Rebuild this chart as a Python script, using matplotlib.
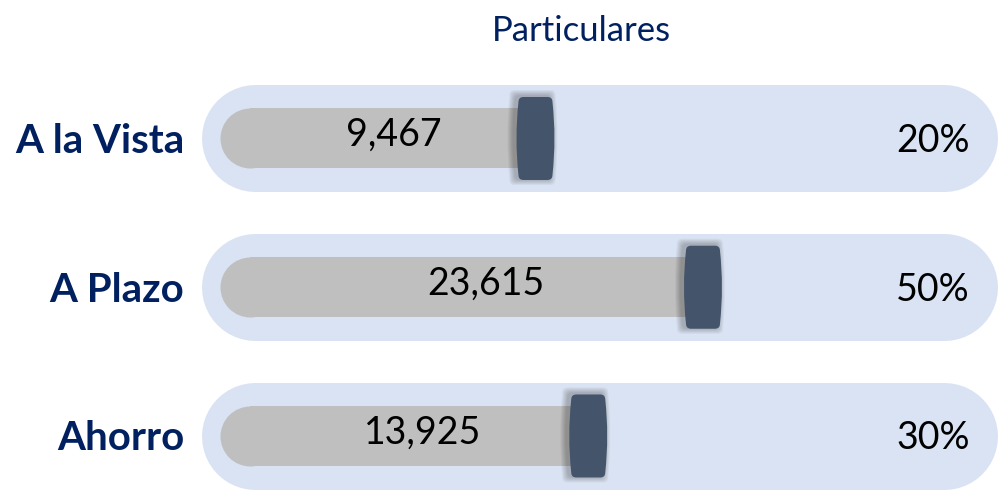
import matplotlib
matplotlib.use("Agg")
import matplotlib.pyplot as plt
from matplotlib.path import Path
from matplotlib.patches import PathPatch

plt.rcParams['font.family'] = ['Lato', 'DejaVu Sans']

# data
categories = ['A la Vista', 'A Plazo', 'Ahorro']
values = [9467, 23615, 13925]
shares = ['20%', '50%', '30%']
title = 'Particulares'

# axis scale (value units) and row layout
X0, X1 = -35760, 48620
Y0, Y1 = -0.931, 2.417
W, H = 999, 498
UX = (X1 - X0) / W          # value units per pixel
UY = (Y1 - Y0) / H          # row units per pixel
PT = 72 / 100               # points per pixel

TRACK_MIN, TRACK_MAX = -18700, 48530
BAR_MIN = -17180
PCT_X = 43040
LABEL_X = -20220
TITLE_X = 13310

fig = plt.figure(figsize=(9.99, 4.98), dpi=100)
ax = fig.add_axes([0, 0, 1, 1])
ax.set_xlim(X0, X1)
ax.set_ylim(Y1, Y0)
ax.axis('off')

track_h = 107
bar_h = 60


def knob_path(cx, cy, hw=17.0, hh=41.5, rc=5.0, b=2.0, grow=0.0, dx=0.0, dy=0.0):
    hw += grow
    hh += grow
    pts = [(-hw + rc, -hh), (hw - rc, -hh),
           (hw, -hh), (hw, -hh + rc),
           (hw + 2 * b, 0), (hw, hh - rc),
           (hw, hh), (hw - rc, hh),
           (-hw + rc, hh),
           (-hw, hh), (-hw, hh - rc),
           (-hw - 2 * b, 0), (-hw, -hh + rc),
           (-hw, -hh), (-hw + rc, -hh),
           (0, 0)]
    codes = [Path.MOVETO, Path.LINETO,
             Path.CURVE3, Path.CURVE3,
             Path.CURVE3, Path.CURVE3,
             Path.CURVE3, Path.CURVE3,
             Path.LINETO,
             Path.CURVE3, Path.CURVE3,
             Path.CURVE3, Path.CURVE3,
             Path.CURVE3, Path.CURVE3,
             Path.CLOSEPOLY]
    verts = [(cx + (px + dx) * UX, cy + (py + dy) * UY) for px, py in pts]
    return Path(verts, codes)


for i, (cat, v, pct) in enumerate(zip(categories, values, shares)):
    # background track (capsule)
    r = track_h / 2 * UX
    ax.plot([TRACK_MIN + r, TRACK_MAX - r], [i, i], color='#DAE3F3',
            lw=track_h * PT, solid_capstyle='round', zorder=1)
    # grey bar, rounded on the left
    rb = bar_h / 2 * UX
    ax.barh(i, v - (BAR_MIN + rb), left=BAR_MIN + rb, height=bar_h * UY,
            color='#BFBFBF', zorder=2)
    ax.plot([BAR_MIN + rb], [i], marker='o', ms=bar_h * PT, color='#BFBFBF',
            mec='none', zorder=2)
    # knob shadow (soft, towards the left)
    for k in range(6, 0, -1):
        ax.add_patch(PathPatch(knob_path(v, i, grow=k, dx=-3, dy=-1),
                               fc='black', ec='none', alpha=0.045, zorder=3))
    ax.add_patch(PathPatch(knob_path(v, i), fc='#44546A', ec='none', zorder=4))
    # texts
    ax.text(LABEL_X, i + 14.5 * UY, cat, ha='right', va='baseline',
            fontsize=29, fontweight='bold', color='#002060', zorder=5)
    tx = BAR_MIN + 0.55 * (v - BAR_MIN)
    ax.text(tx, i + 7.5 * UY, f'{v:,}', ha='center', va='baseline',
            fontsize=27, color='black', zorder=5)
    ax.text(PCT_X, i + 13.5 * UY, pct, ha='center', va='baseline',
            fontsize=27, color='black', zorder=5)

ax.text(TITLE_X, Y0 + 41 * UY, title, ha='center', va='baseline',
        fontsize=25, color='#002060')

fig.savefig('out.png', dpi=100)
